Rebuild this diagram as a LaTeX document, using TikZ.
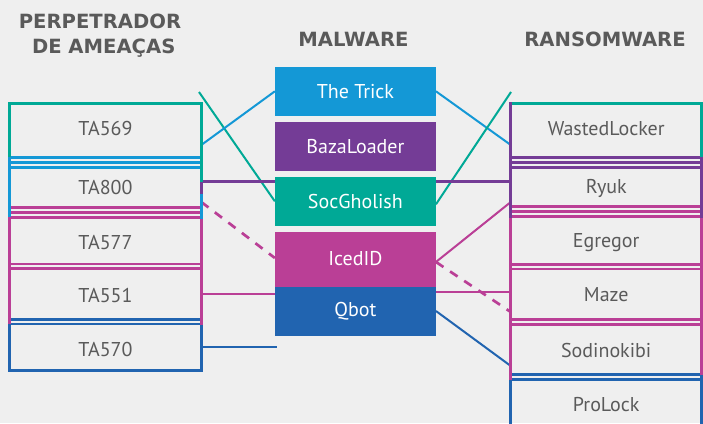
\documentclass[tikz,border=0pt]{standalone}
\usepackage{fontspec}
\setmainfont{PT Sans}
\newfontfamily\headfont{DejaVu Sans}
\usetikzlibrary{backgrounds}
\definecolor{cteal}{RGB}{0,169,150}
\definecolor{clblue}{RGB}{20,152,214}
\definecolor{cpurple}{RGB}{116,60,150}
\definecolor{cmag}{RGB}{186,63,150}
\definecolor{cdblue}{RGB}{33,100,176}
\definecolor{cbg}{RGB}{239,239,239}
\definecolor{ctext}{RGB}{90,90,90}
\begin{document}
\begin{tikzpicture}[x=1pt,y=-1pt,
  head/.style={font=\headfont\bfseries\fontsize{19.6}{24}\selectfont, text=ctext, inner sep=0},
  lbl/.style={font=\fontsize{20}{24}\selectfont, text=ctext, inner sep=0},
  mbox/.style={rectangle, inner sep=0, minimum width=160.7pt, minimum height=48.7pt, text=white, font=\fontsize{20}{24}\selectfont},
  edgeline/.style={line width=2.8pt},
  sepline/.style={line width=2.8pt},
  conn/.style={line width=2pt},
  hconn/.style={line width=2.7pt},
  dconn/.style={line width=2.7pt, dash pattern=on 9pt off 8pt}
]
\useasboundingbox (0,0) rectangle (703,423);

% headings
\node[head,anchor=base] (h1a) at (100,28.3) {PERPETRADOR};
\node[head,anchor=base] (h1b) at (103.7,53.3) {DE AMEAÇAS};
\node[head,anchor=base] (h2) at (353.5,46) {MALWARE};
\node[head,anchor=base] (h3) at (605,46) {RANSOMWARE};

% malware boxes
\node[mbox,fill=clblue] (trick) at (355.4,91.3) {The Trick};
\node[mbox,fill=cpurple] (baza) at (355.4,146.3) {BazaLoader};
\node[mbox,fill=cteal] (socg) at (355.4,201.3) {SocGholish};
\node[mbox,fill=cmag,minimum height=55pt] (iced) at (355.4,259.5) {\raisebox{2.8pt}{IcedID}};
\node[mbox,fill=cdblue] (qbot) at (355.4,311.5) {Qbot};

% connector end points
\coordinate (tealL) at (199,92);
\coordinate (e569) at (201.3,145);
\coordinate (e800a) at (201.3,193.5);
\coordinate (e800b) at (201.3,181.7);
\coordinate (e800c) at (201.3,202);
\coordinate (e551) at (201.3,294);
\coordinate (e570) at (201.3,347);
\coordinate (endBlueL) at (277,347);
\coordinate (wWL) at (510.8,145);
\coordinate (tealR) at (511,92);
\coordinate (wRyuk) at (510.8,181.7);
\coordinate (wRyukB) at (510.8,202);
\coordinate (wMazeA) at (510.8,292);
\coordinate (wMazeB) at (510.8,312);
\coordinate (wSodi) at (510.8,366);

\begin{scope}[on background layer]
  \fill[cbg] (0,0) rectangle (703,423);
  % left connectors
  \draw[conn,cteal] (tealL) -- (socg.west);
  \draw[conn,clblue] (e569) -- (trick.west);
  \draw[hconn,cpurple] (e800a) -- (e800b) -- (e800b -| socg.west);
  \draw[dconn,cmag] (e800c) -- ([yshift=1.5pt]iced.west);
  \draw[hconn,cmag] (e551) -- (e551 -| qbot.west);
  \draw[hconn,cdblue] (e570) -- (endBlueL);
  % right connectors
  \draw[conn,clblue] (trick.east) -- (wWL);
  \draw[conn,cteal] ([yshift=-3pt]socg.east) -- (tealR);
  \draw[hconn,cpurple] (wRyuk -| socg.east) -- (wRyuk);
  \draw[conn,cmag] ([yshift=-2.5pt]iced.east) -- (wRyukB);
  \draw[dconn,cmag] ([yshift=-2.5pt]iced.east) -- (wMazeB);
  \draw[hconn,cmag] (wMazeA -| qbot.east) -- (wMazeA);
  \draw[conn,cdblue] ([yshift=0.5pt]qbot.east) -- (wSodi);
\end{scope}

% left column frame
\draw[edgeline,cteal,line join=miter] (9.5,157) -- (9.5,103.7) -- (201.3,103.7) -- (201.3,181.7);
\draw[edgeline,clblue] (9.5,157) -- (9.5,217);
\draw[edgeline,clblue] (201.3,193.5) -- (201.3,219);
\draw[edgeline,cmag] (9.5,217) -- (9.5,324);
\draw[edgeline,cmag] (201.3,219) -- (201.3,325);
\draw[edgeline,cdblue,line join=miter] (9.5,324) -- (9.5,370.8) -- (201.3,370.8) -- (201.3,325);
\foreach \yy in {157.3,162.2,167.3} \draw[sepline,clblue] (11,\yy) -- (200,\yy);
\foreach \yy in {207.6,212.3,217.3} \draw[sepline,cmag] (11,\yy) -- (200,\yy);
\foreach \yy in {264,268.7} \draw[sepline,cmag] (11,\yy) -- (200,\yy);
\foreach \yy in {319.3,324} \draw[sepline,cdblue] (11,\yy) -- (200,\yy);

% right column frame
\draw[edgeline,cteal,line join=miter] (509.4,103.8) -- (701.5,103.8) -- (701.5,157);
\draw[edgeline,cpurple] (510.8,102.4) -- (510.8,218);
\draw[edgeline,cpurple] (701.5,157) -- (701.5,218);
\draw[edgeline,cmag] (510.8,218) -- (510.8,380);
\draw[edgeline,cmag] (701.5,218) -- (701.5,375);
\draw[edgeline,cdblue] (510.8,380) -- (510.8,430);
\draw[edgeline,cdblue] (701.5,375) -- (701.5,430);
\foreach \yy in {157.7,162.7,167.7} \draw[sepline,cpurple] (512,\yy) -- (700,\yy);
\foreach \yy in {206.7,211.7,216.3} \draw[sepline,cmag] (512,\yy) -- (700,\yy);
\foreach \yy in {264.3,269} \draw[sepline,cmag] (512,\yy) -- (700,\yy);
\foreach \yy in {319.7,324.3} \draw[sepline,cmag] (512,\yy) -- (700,\yy);
\foreach \yy in {374.7,379.3} \draw[sepline,cdblue] (512,\yy) -- (700,\yy);

% left labels
\node[lbl] (l569) at (105.4,128.3) {TA569};
\node[lbl] (l800) at (105.4,187.7) {TA800};
\node[lbl] (l577) at (105.4,242.7) {TA577};
\node[lbl] (l551) at (105.4,295) {TA551};
\node[lbl] (l570) at (105.4,349.3) {TA570};

% right labels
\node[lbl] (rwl) at (606.2,128.3) {WastedLocker};
\node[lbl] (rryuk) at (606.2,188.3) {Ryuk};
\node[lbl] (regr) at (606.2,242.7) {Egregor};
\node[lbl] (rmaze) at (606.2,295) {Maze};
\node[lbl] (rsodi) at (606.2,350) {Sodinokibi};
\node[lbl] (rpro) at (606.2,405) {ProLock};
\end{tikzpicture}
\end{document}
